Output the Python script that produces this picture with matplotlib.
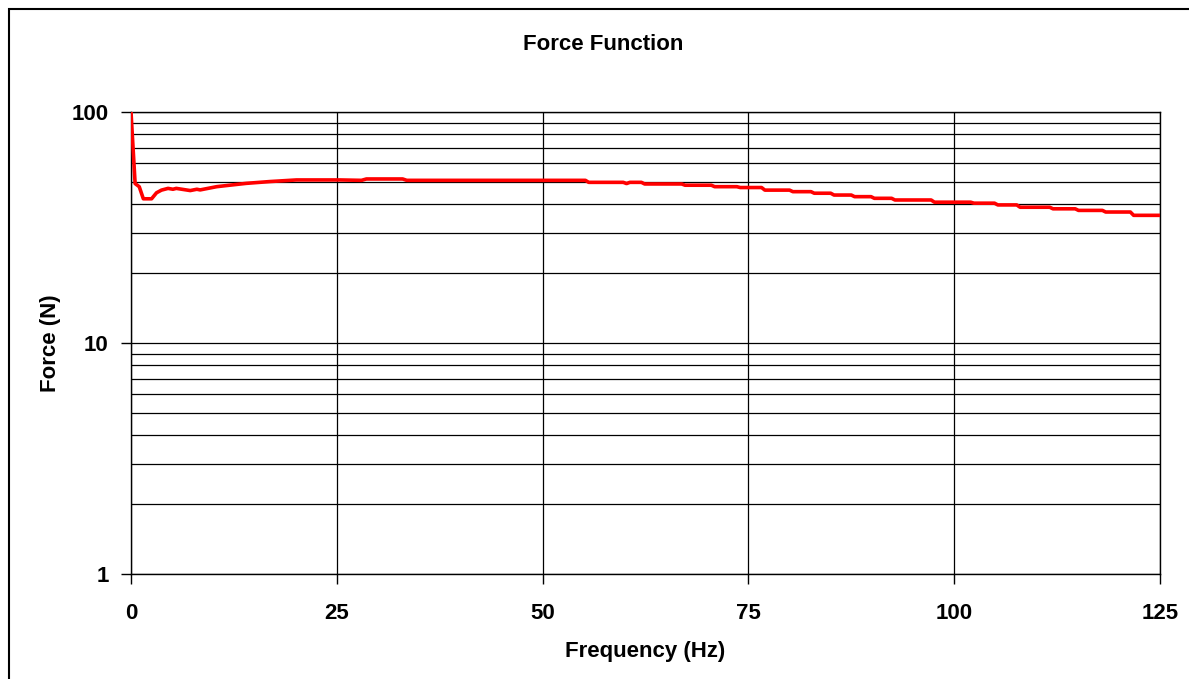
import numpy as np
import matplotlib.pyplot as plt
from matplotlib.patches import Rectangle
from matplotlib.ticker import FixedLocator, NullFormatter

plt.rcParams['font.family'] = ['Liberation Sans', 'DejaVu Sans']
plt.rcParams['font.weight'] = 'bold'

# frequency (Hz) and force (N)
freq = [0, 0.5, 1.0, 1.5, 2.5, 3.1, 3.7, 4.5, 5.1, 5.5, 7.2, 8.0, 8.4, 10.4,
        12.2, 14.0, 16.9, 20.1, 25.4, 28.0, 28.6, 33.0, 33.5, 55.2, 55.6,
        59.8, 60.2, 60.6, 62.0, 62.4, 66.9, 67.3, 70.5, 70.9, 73.6, 74.0,
        76.6, 77.0, 80.0, 80.4, 82.6, 83.0, 85.0, 85.4, 87.5, 87.9, 89.9,
        90.3, 92.4, 92.8, 97.2, 97.6, 102.0, 102.4, 104.9, 105.3, 107.6,
        108.0, 111.6, 112.0, 114.7, 115.1, 118.0, 118.4, 121.4, 121.8, 125.0]
force = [100, 49.0, 47.5, 42.1, 42.1, 44.7, 45.9, 46.7, 46.3, 46.7, 45.7, 46.3,
         46.0, 47.5, 48.3, 49.1, 50.0, 50.8, 50.8, 50.6, 51.3, 51.3, 50.6,
         50.6, 49.6, 49.6, 49.0, 49.6, 49.6, 48.8, 48.8, 48.2, 48.2, 47.5,
         47.5, 47.1, 47.1, 45.9, 45.9, 45.2, 45.2, 44.5, 44.5, 43.7, 43.7,
         43.0, 43.0, 42.3, 42.3, 41.6, 41.6, 40.7, 40.7, 40.3, 40.3, 39.6,
         39.6, 38.7, 38.7, 38.1, 38.1, 37.5, 37.5, 36.9, 36.9, 35.7, 35.7]

xticks = [0, 25, 50, 75, 100, 125]
yticks = [1, 10, 100]
ygrid = [2, 3, 4, 5, 6, 7, 8, 9, 20, 30, 40, 50, 60, 70, 80, 90]

W, H = 1189, 679
fig = plt.figure(figsize=(W / 100, H / 100), dpi=100)
fig.patches.append(Rectangle((9 / W, -0.1), 1.2, 1 - 9 / H + 0.1,
                             transform=fig.transFigure, fill=False,
                             edgecolor='black', linewidth=1.5))

ax = fig.add_axes([131 / W, 1 - 574 / H, (1160 - 131) / W, (574 - 112) / H])
ax.plot(freq, force, color='red', linewidth=2.6, zorder=3)
ax.set_yscale('log')
ax.set_xlim(0, 125)
ax.set_ylim(1, 100)

ax.set_xticks(xticks)
ax.set_xticklabels([str(v) for v in xticks])
ax.set_yticks(yticks)
ax.set_yticklabels([str(v) for v in yticks])
ax.yaxis.set_minor_locator(FixedLocator(ygrid))
ax.yaxis.set_minor_formatter(NullFormatter())
ax.tick_params(axis='y', which='minor', length=0)
ax.tick_params(axis='both', which='major', labelsize=16, length=7,
               width=1, direction='out')
ax.tick_params(axis='x', pad=14)
ax.tick_params(axis='y', pad=9)

ax.grid(True, which='major', axis='x', color='black', linewidth=0.9)
ax.grid(True, which='both', axis='y', color='black', linewidth=0.9)
for s in ax.spines.values():
    s.set_linewidth(1)
    s.set_color('black')

ax.set_xlabel('Frequency (Hz)', fontsize=16, fontweight='bold', labelpad=12)
ax.set_ylabel('Force (N)', fontsize=16, fontweight='bold', labelpad=8)
fig.text(603 / W, 1 - 44 / H, 'Force Function', fontsize=16,
         fontweight='bold', ha='center', va='center')

fig.savefig('out.png', dpi=100)
